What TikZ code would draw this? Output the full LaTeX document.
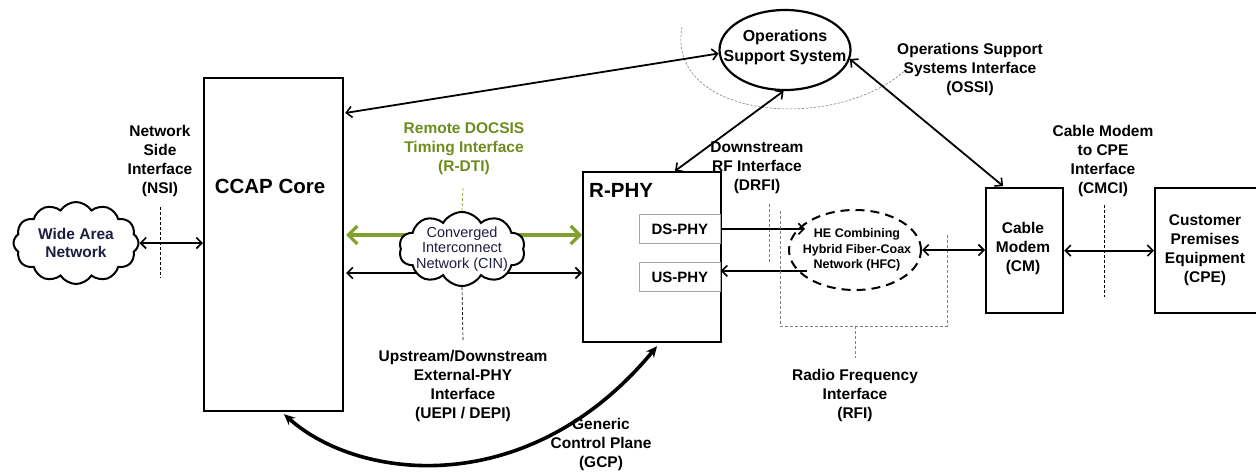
\documentclass[tikz,border=0pt]{standalone}
\usepackage{fontspec}
\setmainfont{Liberation Sans}
\usetikzlibrary{shapes.geometric,shapes.symbols,arrows.meta,calc}
\definecolor{rdti}{HTML}{84A02C}
\definecolor{rdtitext}{HTML}{6F8C1E}
\definecolor{navy}{HTML}{1E1E40}
\definecolor{dgray}{HTML}{808080}
\begin{document}
\begin{tikzpicture}[x=1pt,y=-1pt,
  lbl/.style={font=\fontsize{15.5}{19}\selectfont\bfseries, align=center, inner sep=0},
  bigl/.style={font=\fontsize{20.5}{24}\selectfont\bfseries, inner sep=0},
  box/.style={draw, line width=2.2pt, inner sep=0, anchor=north west},
  phybox/.style={draw=gray!70, line width=0.7pt, inner sep=0, anchor=north west, minimum width=81, minimum height=29,
     font=\fontsize{15}{16}\selectfont\bfseries},
  barb/.tip={Straight Barb[length=5.5pt,width=11pt,line width=1.6pt]},
  dar/.style={barb-barb, line width=1.8pt},
  sar/.style={-barb, line width=1.8pt},
  gar/.style={{Straight Barb[length=9pt,width=18pt,line width=3.2pt]}-{Straight Barb[length=9pt,width=18pt,line width=3.2pt]}, line width=3.4pt, draw=rdti},
  thind/.style={line width=0.7pt, dash pattern=on 3pt off 2pt},
  cloudn/.style={cloud, draw, fill=white, line width=2pt, cloud puffs=12, cloud puff arc=115, cloud ignores aspect, inner sep=0}
]
\useasboundingbox (0,0) rectangle (1256,472);

% Boxes
\node[box, minimum width=139, minimum height=333] (ccap) at (203,77) {};
\node[bigl] (ccaplbl) at (270,186) {CCAP Core};
\node[box, minimum width=138, minimum height=170] (rphy) at (582,171) {};
\node[bigl, anchor=west] (rphylbl) at (589,190) {R-PHY};
\node[phybox] (ds) at (639,214) {DS-PHY};
\node[phybox] (us) at (639,262) {US-PHY};
\node[box, minimum width=77, minimum height=125] (cm) at (985,187) {};
\node[lbl] (cmlbl) at (1023,248) {Cable\\Modem\\(CM)};
\node[box, minimum width=102, minimum height=125] (cpe) at (1154,187) {};
\node[lbl] (cpelbl) at (1205,250) {Customer\\Premises\\Equipment\\(CPE)};

% OSS
\node[ellipse, draw, line width=2.2pt, minimum width=131, minimum height=80, inner sep=0] (oss) at (785,50) {};
\node[font=\fontsize{16}{20}\selectfont\bfseries, align=center, inner sep=0] (osslbl) at (785,47) {Operations\\Support System};

% HFC
\node[ellipse, draw, line width=2pt, dash pattern=on 9pt off 6pt, minimum width=132, minimum height=80, inner sep=0] (hfc) at (855,250) {};
\node[font=\fontsize{12.5}{15.5}\selectfont\bfseries, align=center, inner sep=0] (hfclbl) at (857,250) {HE Combining\\Hybrid Fiber-Coax\\Network (HFC)};

% arc around OSS
\coordinate (arcA) at (682,27);
\coordinate (arcB) at (910,66);
\draw[dgray, line width=0.6pt, dash pattern=on 2.5pt off 1.5pt] (arcA) .. controls (665,120) and (840,135) .. (arcB);

% connectors
\coordinate (ccaposs) at ($(ccap.north east)+(1,36)$);
\draw[dar] (ccaposs) -- (oss.183);
\draw[dar] (oss.-92) -- ($(rphy.north west)+(93,0)$);
\draw[dar] (oss.-8) -- ($(cm.north west)+(18,-1)$);

% NSI
\node[cloudn, minimum width=125, minimum height=82] (wan) at (76,243) {};
\node[font=\fontsize{15.5}{18}\selectfont\bfseries, text=navy, align=center, inner sep=0] (wanlbl) at (wan.center) {Wide Area\\Network};
\draw[dar] (wan.east) -- (wan.east -| ccap.west);
\coordinate (nsiT) at (160,207);
\coordinate (nsiB) at (160,278);
\draw[thind] (nsiT) -- (nsiB);
\node[lbl] (nsilbl) at (160,161) {Network\\Side\\Interface\\(NSI)};

% CIN
\coordinate (gL) at ($(ccap.north east)+(2,158)$);
\coordinate (bL) at ($(ccap.north east)+(2,196)$);
\draw[gar] (gL) -- (gL -| rphy.west);
\draw[dar] (bL) -- (bL -| rphy.west);
\node[cloudn, cloud puffs=10, cloud puff arc=120, minimum width=126, minimum height=74] (cin) at (462,249) {};
\node[font=\fontsize{14.5}{15.5}\selectfont, text=navy, align=center, inner sep=0] (cinlbl) at (cin.center) {Converged\\Interconnect\\Network (CIN)};
\coordinate (rdtiT) at (463,188);
\draw[rdti, thind] (rdtiT) -- (cin.north);
\coordinate (uepiB) at (463,340);
\draw[thind] (cin.south) -- (uepiB);
\node[lbl, text=rdtitext] (rdtilbl) at (464,149) {Remote DOCSIS\\Timing Interface\\(R-DTI)};
\node[lbl] (uepilbl) at (463,386) {Upstream/Downstream\\External-PHY\\Interface\\(UEPI / DEPI)};

% GCP
\coordinate (gcpA) at ($(ccap.south west)+(81,2)$);
\coordinate (gcpB) at ($(rphy.south west)+(75,3)$);
\draw[{Stealth[length=11pt,width=10pt]}-{Stealth[length=11pt,width=10pt]}, line width=3.6pt] (gcpA) .. controls (360,482) and (530,500) .. (gcpB);
\node[lbl] (gcplbl) at (601,444) {Generic\\Control Plane\\(GCP)};

% DRFI
\node[lbl] (drfilbl) at (757,168) {Downstream\\RF Interface\\(DRFI)};
\coordinate (drfiT) at (769,204);
\coordinate (drfiB) at (769,262);
\draw[dgray, thind] (drfiT) -- (drfiB);
\draw[sar] (ds.east) -- ($(ds.east -| hfc.west)+(17,0)$);
\draw[sar] ($(us.east -| hfc.west)+(19,-6)$) -- ($(us.east)+(0,-6)$);

% RFI
\coordinate (rfi1) at (780,211);
\coordinate (rfi2) at (780,326);
\coordinate (rfi3) at (947,326);
\coordinate (rfi4) at (947,234);
\coordinate (rfiM) at (855,326);
\coordinate (rfiB) at (855,358);
\draw[dgray, thind] (rfi1) -- (rfi2) -- (rfi3) -- (rfi4);
\draw[dgray, thind] (rfiM) -- (rfiB);
\node[lbl] (rfilbl) at (855,395) {Radio Frequency\\Interface\\(RFI)};

% CM links
\draw[dar] (hfc.east) -- (hfc.east -| cm.west);
\draw[dar] (cm.east) -- (cm.east -| cpe.west);
\coordinate (cmciT) at (1104,205);
\coordinate (cmciB) at (1104,297);
\draw[thind] (cmciT) -- (cmciB);
\node[lbl] (cmcilbl) at (1103,161) {Cable Modem\\to CPE\\Interface\\(CMCI)};

% OSSI
\node[lbl] (ossilbl) at (970,69) {Operations Support\\Systems Interface\\(OSSI)};
\end{tikzpicture}
\end{document}
